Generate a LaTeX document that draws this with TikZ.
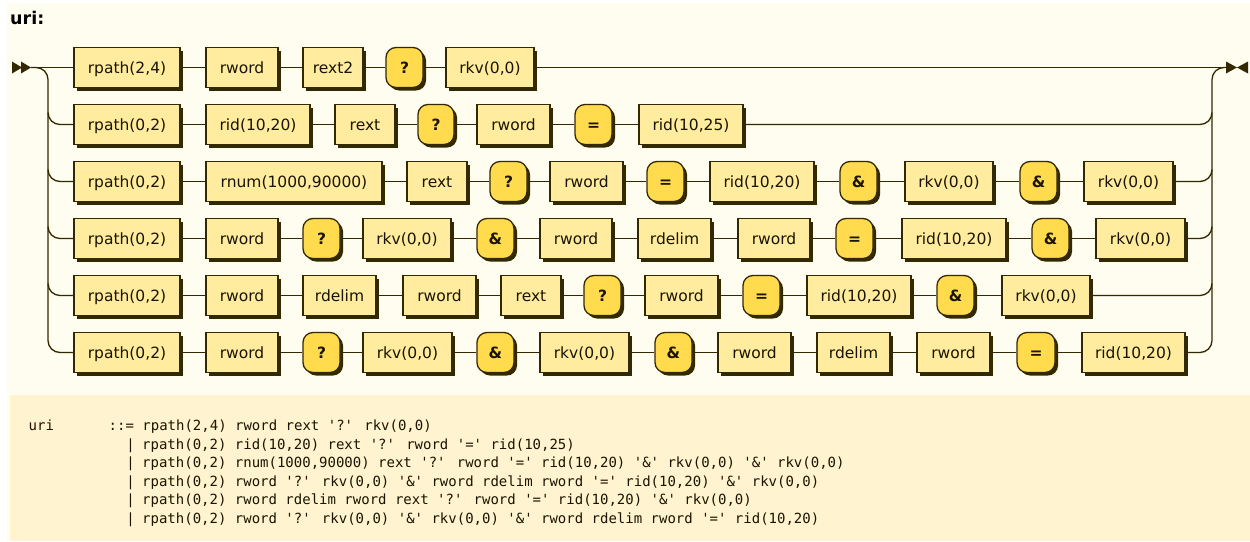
\documentclass[tikz,border=0pt]{standalone}
\usepackage{fontspec}
\setmainfont{DejaVu Sans}
\newfontfamily\codefont{DejaVu Sans Mono}
\usetikzlibrary{shadows,calc}

\definecolor{railc}{HTML}{332900}
\definecolor{ntfill}{HTML}{FFEC9E}
\definecolor{tfill}{HTML}{FFDB4D}
\definecolor{pagebg}{HTML}{FFFCF0}
\definecolor{codebg}{HTML}{FFF4CF}
\definecolor{inkc}{HTML}{1A1400}

\tikzset{
  rail/.style={draw=railc, line width=1.3pt},
  boxbase/.style={draw=railc, line width=1.3pt, minimum height=40pt,
    inner xsep=0pt, inner ysep=0pt, text height=12pt, text depth=0pt,
    text=inkc, font=\fontsize{15.5}{18}\selectfont,
    drop shadow={shadow xshift=3pt, shadow yshift=-3pt, fill=railc, opacity=1}},
  ntbox/.style={boxbase, fill=ntfill},
  tbox/.style={boxbase, fill=tfill, rounded corners=10pt,
    font=\fontsize{15.5}{18}\selectfont\bfseries},
  marker/.style={fill=railc, draw=none},
  codeline/.style={anchor=base west, inner sep=0pt, text=inkc,
    font=\codefont\fontsize{14}{16}\selectfont},
  codebar/.style={codeline, anchor=base},
}

% one alternative of the choice: boxes chained left to right
\newcommand\railrow[3]{%
  \foreach \kind/\xa/\xb/\lbl [count=\k] in {#3}{%
    \node[\kind, minimum width={(\xb-\xa)*1pt}] (r#1-\k) at ({(\xa+\xb)/2},#2) {\lbl};
    \ifnum\k>1
      \pgfmathtruncatemacro\prevk{\k-1}%
      \draw[rail] (r#1-\prevk.east) -- (r#1-\k.west);
    \fi
    \xdef\lastk{\k}%
  }%
}

\begin{document}
\begin{tikzpicture}[x=1pt,y=-1pt]
\useasboundingbox (0,0) rectangle (1250,541);
\fill[white] (0,0) rectangle (1250,541);
\fill[pagebg] (7,3) rectangle (1250,541);
\fill[codebg] (10,395) rectangle (1250,541);

\node[anchor=base west, inner sep=0pt, text=black,
  font=\fontsize{17.5}{20}\selectfont\bfseries] (title) at (10,24) {uri:};

% start and end markers
\fill[marker] (12,61.5) -- (22,67.5) -- (12,73.5) -- cycle;
\fill[marker] (21,61.5) -- (31,67.5) -- (21,73.5) -- cycle;
\fill[marker] (1226,61.5) -- (1237,67.5) -- (1226,73.5) -- cycle;
\fill[marker] (1248,61.5) -- (1237,67.5) -- (1248,73.5) -- cycle;
\coordinate (startpt) at (31,67.5);
\coordinate (endpt) at (1226,67.5);
\coordinate (lrail) at (48,0);
\coordinate (rrail) at (1212,0);

% alternative 1
\railrow{1}{67.5}{ntbox/74/180/{rpath(2,4)}, ntbox/206/278/rword,
  ntbox/303/363/rext2, tbox/386/423/?, ntbox/446/534/{rkv(0,0)}}
\draw[rail] (startpt) -- (r1-1.west);
\draw[rail] (r1-\lastk.east) -- (endpt);

% alternative 2
\railrow{2}{124.5}{ntbox/74/180/{rpath(0,2)}, ntbox/206/310/{rid(10,20)},
  ntbox/335/395/rext, tbox/418/454/?, ntbox/477/550/rword, tbox/575/612/=,
  ntbox/639/743/{rid(10,25)}}
\draw[rail, rounded corners=12pt] ($(lrail |- r2-1.west)+(0,-12)$) -- (lrail |- r2-1.west) -- (r2-1.west);
\draw[rail, rounded corners=12pt] (r2-\lastk.east) -- (rrail |- r2-\lastk.east) -- ++(0,-12);

% alternative 3
\railrow{3}{181.5}{ntbox/74/180/{rpath(0,2)}, ntbox/206/382/{rnum(1000,90000)},
  ntbox/407/467/rext, tbox/490/527/?, ntbox/550/623/rword, tbox/647/684/=,
  ntbox/710/814/{rid(10,20)}, tbox/840/877/{\&}, ntbox/905/993/{rkv(0,0)},
  tbox/1020/1057/{\&}, ntbox/1084/1173/{rkv(0,0)}}
\draw[rail, rounded corners=12pt] ($(lrail |- r3-1.west)+(0,-12)$) -- (lrail |- r3-1.west) -- (r3-1.west);
\draw[rail, rounded corners=12pt] (r3-\lastk.east) -- (rrail |- r3-\lastk.east) -- ++(0,-12);

% alternative 4
\railrow{4}{238.5}{ntbox/74/180/{rpath(0,2)}, ntbox/206/278/rword,
  tbox/303/340/?, ntbox/363/451/{rkv(0,0)}, tbox/477/514/{\&},
  ntbox/540/612/rword, ntbox/638/711/rdelim, ntbox/738/810/rword,
  tbox/836/873/=, ntbox/902/1006/{rid(10,20)}, tbox/1032/1069/{\&},
  ntbox/1096/1185/{rkv(0,0)}}
\draw[rail, rounded corners=12pt] ($(lrail |- r4-1.west)+(0,-12)$) -- (lrail |- r4-1.west) -- (r4-1.west);
\draw[rail, rounded corners=12pt] (r4-\lastk.east) -- (rrail |- r4-\lastk.east) -- ++(0,-12);

% alternative 5
\railrow{5}{295.5}{ntbox/74/180/{rpath(0,2)}, ntbox/206/278/rword,
  ntbox/303/376/rdelim, ntbox/403/476/rword, ntbox/501/561/rext,
  tbox/584/621/?, ntbox/645/718/rword, tbox/743/780/=,
  ntbox/807/911/{rid(10,20)}, tbox/937/974/{\&}, ntbox/1002/1090/{rkv(0,0)}}
\draw[rail, rounded corners=12pt] ($(lrail |- r5-1.west)+(0,-12)$) -- (lrail |- r5-1.west) -- (r5-1.west);
\draw[rail, rounded corners=12pt] (r5-\lastk.east) -- (rrail |- r5-\lastk.east) -- ++(0,-12);

% alternative 6 (carries the outer rails)
\railrow{6}{352.5}{ntbox/74/180/{rpath(0,2)}, ntbox/206/278/rword,
  tbox/303/340/?, ntbox/363/452/{rkv(0,0)}, tbox/477/514/{\&},
  ntbox/540/629/{rkv(0,0)}, tbox/655/692/{\&}, ntbox/718/791/rword,
  ntbox/817/890/rdelim, ntbox/917/990/rword, tbox/1017/1055/=,
  ntbox/1082/1185/{rid(10,20)}}
\draw[rail, rounded corners=12pt] (startpt) -- (lrail |- startpt) -- (lrail |- r6-1.west) -- (r6-1.west);
\draw[rail, rounded corners=12pt] (r6-\lastk.east) -- (rrail |- r6-\lastk.east) -- (rrail |- endpt) -- (endpt);

% grammar text
\node[codeline] (c0) at (28.5,430.5) {uri};
\node[codeline] (c1) at (108.5,430.5) {::= rpath(2,4) rword rext '?' rkv(0,0)};
\node[codebar] (p2) at (130.5,449) {|};
\node[codeline] (c2) at (142,449) {rpath(0,2) rid(10,20) rext '?' rword '=' rid(10,25)};
\node[codebar] (p3) at (130.5,467.5) {|};
\node[codeline] (c3) at (142,467.5) {rpath(0,2) rnum(1000,90000) rext '?' rword '=' rid(10,20) '\&' rkv(0,0) '\&' rkv(0,0)};
\node[codebar] (p4) at (130.5,486) {|};
\node[codeline] (c4) at (142,486) {rpath(0,2) rword '?' rkv(0,0) '\&' rword rdelim rword '=' rid(10,20) '\&' rkv(0,0)};
\node[codebar] (p5) at (130.5,504.5) {|};
\node[codeline] (c5) at (142,504.5) {rpath(0,2) rword rdelim rword rext '?' rword '=' rid(10,20) '\&' rkv(0,0)};
\node[codebar] (p6) at (130.5,523) {|};
\node[codeline] (c6) at (142,523) {rpath(0,2) rword '?' rkv(0,0) '\&' rkv(0,0) '\&' rword rdelim rword '=' rid(10,20)};
\end{tikzpicture}
\end{document}
